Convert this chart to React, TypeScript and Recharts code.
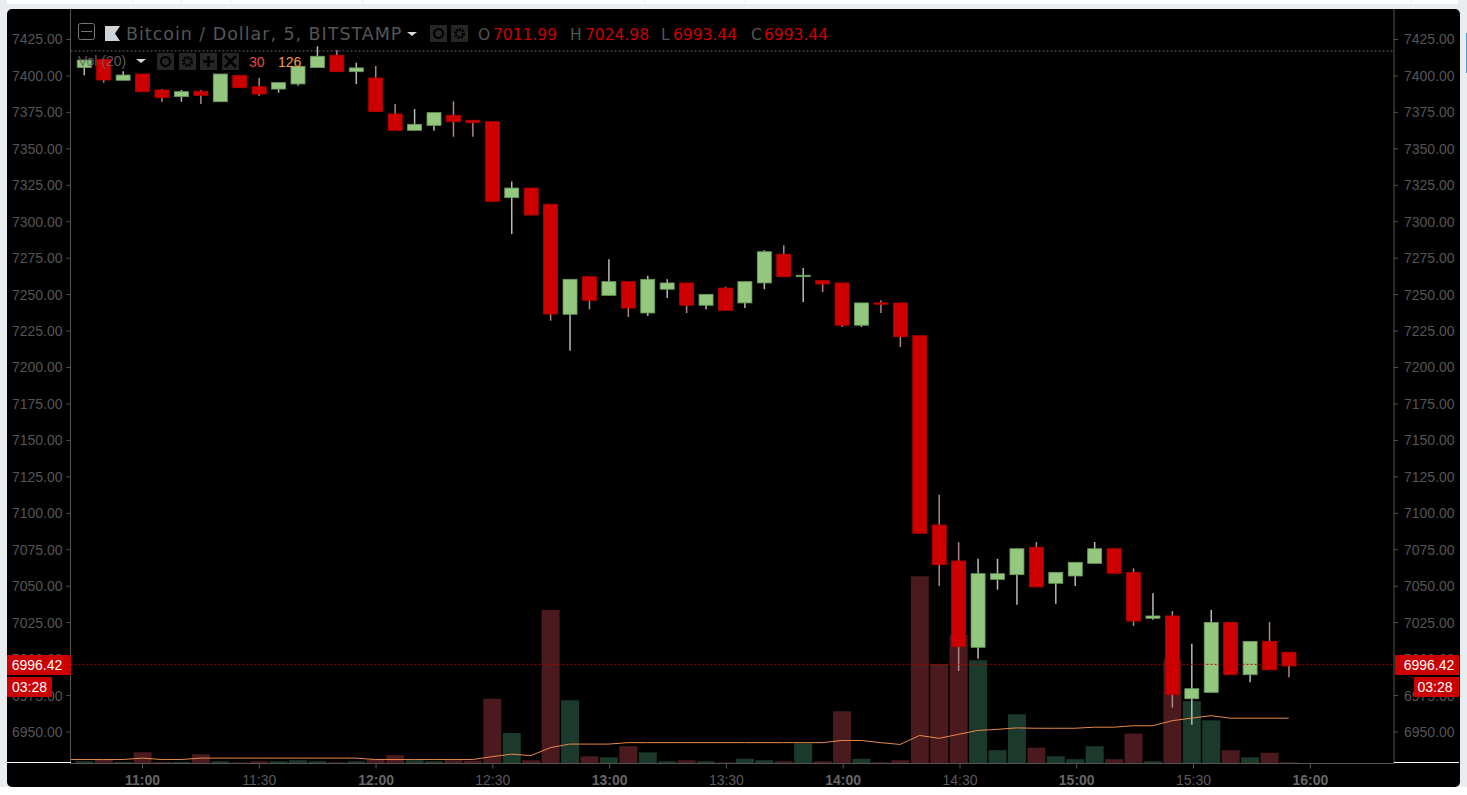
import React from "react";

import {
    ComposedChart,
    Bar,
    Cell,
    Line,
    XAxis,
    YAxis,
    ReferenceLine,
} from "recharts";

const opens = [null, 7405.7, 7411.4, 7397.0, 7401.3, 7390.4, 7385.8, 7389.5, 7382.3, 7400.4, 7392.6, 7391.0, 7394.5, 7405.7, 7414.2, 7402.9, 7398.6, 7373.9, 7362.7, 7366.1, 7373.0, 7369.6, 7368.6, 7316.5, 7323.1, 7312.0, 7236.5, 7262.3, 7249.5, 7258.9, 7237.4, 7253.7, 7258.0, 7242.7, 7254.5, 7244.3, 7258.0, 7277.7, 7262.3, 7259.6, 7258.0, 7229.0, 7244.3, 7244.3, 7221.8, 7092.0, 7067.3, 7008.1, 7054.7, 7057.9, 7076.7, 7052.0, 7057.0, 7065.7, 7075.7, 7059.5, 7028.0, 7029.6, 6972.8, 6977.2, 7025.2, 6989.3, 7012.2, 7004.7];
const highs = [null, 7410.9, 7411.6, 7403.2, 7401.3, 7391.0, 7390.4, 7390.4, 7401.3, 7400.4, 7398.8, 7395.6, 7406.6, 7420.3, 7417.8, 7409.1, 7406.8, 7380.8, 7377.3, 7374.8, 7382.6, 7369.6, 7368.6, 7327.5, 7323.1, 7312.0, 7260.5, 7262.3, 7274.2, 7258.9, 7263.0, 7260.5, 7258.0, 7250.2, 7255.4, 7258.9, 7280.4, 7283.8, 7268.3, 7259.6, 7258.0, 7244.3, 7246.1, 7244.3, 7221.8, 7112.8, 7080.1, 7068.9, 7068.9, 7075.7, 7080.3, 7059.5, 7066.4, 7080.3, 7075.7, 7062.3, 7045.1, 7033.0, 7010.6, 7033.7, 7025.2, 7012.2, 7025.4, 7004.7];
const lows = [null, 7400.4, 7395.4, 7397.0, 7389.2, 7382.3, 7382.3, 7380.8, 7382.3, 7391.9, 7386.2, 7388.5, 7393.3, 7405.7, 7402.9, 7394.5, 7375.5, 7362.7, 7362.7, 7362.4, 7358.3, 7358.3, 7314.0, 7291.6, 7304.6, 7232.1, 7211.5, 7239.9, 7249.5, 7234.7, 7235.3, 7247.7, 7237.4, 7239.9, 7239.2, 7240.8, 7253.7, 7262.3, 7245.0, 7251.8, 7227.8, 7227.8, 7237.4, 7214.1, 7086.3, 7050.1, 6991.8, 7000.3, 7047.6, 7037.3, 7049.5, 7038.0, 7050.1, 7065.7, 7058.9, 7022.7, 7027.0, 6966.7, 6955.0, 6977.2, 6989.3, 6984.1, 6992.7, 6987.5];
const closes = [null, 7410.9, 7397.2, 7400.6, 7389.2, 7385.1, 7389.2, 7386.7, 7401.3, 7391.9, 7387.6, 7395.4, 7406.6, 7413.5, 7402.9, 7405.5, 7375.5, 7362.7, 7366.8, 7374.8, 7368.6, 7367.9, 7314.0, 7323.1, 7304.6, 7236.7, 7260.5, 7246.1, 7258.9, 7240.8, 7260.5, 7258.0, 7242.7, 7250.2, 7239.2, 7258.9, 7279.4, 7262.3, 7263.3, 7257.3, 7229.0, 7244.3, 7243.4, 7221.1, 7086.3, 7064.8, 7008.5, 7058.6, 7058.6, 7075.7, 7049.5, 7059.5, 7066.4, 7075.7, 7058.9, 7026.1, 7029.6, 6975.6, 6979.7, 7025.2, 6989.3, 7012.2, 6992.7, 6995.3];
const volumes = [null, 6, 11, 4, 31, 4, 4, 26, 6, 3, 6, 6, 9, 6, 3, 6, 11, 23, 9, 6, 9, 8, 180, 85, 9, 427, 176, 20, 17, 48, 31, 6, 9, 6, 3, 13, 9, 6, 56, 6, 145, 13, 3, 9, 521, 277, 357, 287, 37, 137, 44, 20, 12, 48, 12, 83, 6, 290, 173, 120, 37, 17, 30, 3];
const volumeMa = [11, 11, 11, 11, 15, 11, 11, 15, 15, 15, 15, 15, 15, 15, 15, 15, 11, 11, 11, 11, 11, 11, 19, 26, 22, 44, 54, 54, 54, 58, 58, 58, 58, 58, 58, 58, 58, 58, 58, 58, 64, 64, 58, 53, 78, 70, 81, 92, 95, 99, 98, 98, 98, 101, 101, 105, 105, 119, 126, 133, 126, 126, 126, 126];

const priceTicks = [6950, 6975, 7000, 7025, 7050, 7075, 7100, 7125, 7150, 7175, 7200, 7225, 7250, 7275, 7300, 7325, 7350, 7375, 7400, 7425];
const timeTicks = [660, 690, 720, 750, 780, 810, 840, 870, 900, 930, 960];
const lastPrice = 6996.42;
const highMark = 7417.1;

const data = opens.map((open, i) => ({
    t: 640 + i * 5,
    open,
    high: highs[i],
    low: lows[i],
    close: closes[i],
    volume: volumes[i],
    ma: volumeMa[i],
}));

const RED = "#cc0000";
const GREEN = "#93c87e";
const GREY = "#555555";
// candles sit a little left of their time tick on the original
const barDomain = [641.53, 982.1];

const Candle = (props: any) => {
    const { x, y, width, height, payload } = props;
    if (payload.open === null) return null;
    const { open, close, high, low } = payload;
    const perDollar = height / (high - low);
    const up = close >= open;
    const bodyTop = y + (high - Math.max(open, close)) * perDollar;
    const bodyH = Math.max(Math.abs(open - close) * perDollar, 1);
    const cx = x + width / 2;
    return (
        <g>
            <line x1={cx} x2={cx} y1={y} y2={y + height} stroke={up ? "#b4bcb4" : "#b08488"} strokeWidth={1.5} />
            <rect
                x={x}
                y={bodyTop}
                width={width}
                height={bodyH}
                fill={up ? GREEN : RED}
                stroke={up ? "#6c9a60" : "#b80000"}
                strokeWidth={0.8}
            />
        </g>
    );
};

const TimeTick = (props: any) => {
    const { x, y, payload } = props;
    const h = Math.floor(payload.value / 60);
    const m = payload.value % 60;
    return (
        <text
            x={x}
            y={y + 14}
            textAnchor="middle"
            fontFamily="Liberation Sans"
            fontSize={14}
            fontWeight={m === 0 ? "bold" : "normal"}
            fill={m === 0 ? "#666666" : "#5a5a5a"}
        >
            {`${h}:${m === 0 ? "00" : m}`}
        </text>
    );
};

const Icon = ({ x, y, kind }: { x: number; y: number; kind: string }) => (
    <g transform={`translate(${x},${y})`}>
        <rect width={17} height={17} fill="#262626" />
        {kind === "eye" && <circle cx={8.5} cy={8.5} r={4.5} fill="none" stroke="#000" strokeWidth={2} />}
        {kind === "gear" && <circle cx={8.5} cy={8.5} r={4} fill="none" stroke="#000" strokeWidth={3} strokeDasharray="2 1" />}
        {kind === "plus" && <path d="M8.5 3v11M3 8.5h11" stroke="#000" strokeWidth={2.5} />}
        {kind === "close" && <path d="M3 3l11 11M14 3L3 14" stroke="#000" strokeWidth={2.5} />}
    </g>
);

const headerFont = "DejaVu Sans";

const Overlay = () => (
    <svg width={1467} height={795} style={{ position: "absolute", left: 0, top: 0, pointerEvents: "none" }}>
        {/* legend header */}
        <rect x={78.5} y={23.5} width={16} height={16} rx={2} fill="none" stroke="#777" strokeWidth={1} />
        <line x1={81} x2={92} y1={31.5} y2={31.5} stroke="#777" strokeWidth={1} />
        <path d="M105 26h15l-5 7.5 5 7.5h-15z" fill="#cfd4d8" />
        <text x={126} y={40} fontFamily={headerFont} fontSize={17.5} letterSpacing={0.97} fill={GREY}>Bitcoin / Dollar, 5, BITSTAMP</text>
        <path d="M407 32h10l-5 4z" fill="#d8d8d8" />
        <Icon x={430} y={25} kind="eye" />
        <Icon x={451} y={25} kind="gear" />
        <text x={478} y={40} fontFamily={headerFont} fontSize={15.5} fill={GREY}>O</text>
        <text x={493} y={40} fontFamily={headerFont} fontSize={15.5} fill={RED}>7011.99</text>
        <text x={570} y={40} fontFamily={headerFont} fontSize={15.5} fill={GREY}>H</text>
        <text x={585} y={40} fontFamily={headerFont} fontSize={15.5} fill={RED}>7024.98</text>
        <text x={661} y={40} fontFamily={headerFont} fontSize={15.5} fill={GREY}>L</text>
        <text x={673} y={40} fontFamily={headerFont} fontSize={15.5} fill={RED}>6993.44</text>
        <text x={751} y={40} fontFamily={headerFont} fontSize={15.5} fill={GREY}>C</text>
        <text x={764} y={40} fontFamily={headerFont} fontSize={15.5} fill={RED}>6993.44</text>

        <text x={78} y={66} fontFamily="Liberation Sans" fontSize={14} fill="#666" fillOpacity={0.9}>Vol (20)</text>
        <path d="M136 59h10l-5 4z" fill="#d8d8d8" />
        <Icon x={157} y={53} kind="eye" />
        <Icon x={179} y={53} kind="gear" />
        <Icon x={200} y={53} kind="plus" />
        <Icon x={222} y={53} kind="close" />
        <text x={249} y={67} fontFamily="Liberation Sans" fontSize={14} fill="#e0464e">30</text>
        <text x={278} y={67} fontFamily="Liberation Sans" fontSize={14} fill="#f5994e">126</text>

        {/* last price and countdown tags */}
        <rect x={7} y={655} width={64} height={20} fill={RED} />
        <text x={37} y={670} textAnchor="middle" fontFamily="Liberation Sans" fontSize={14} fill="#fff">6996.42</text>
        <rect x={7} y={677} width={45} height={20} fill={RED} />
        <text x={29.5} y={692} textAnchor="middle" fontFamily="Liberation Sans" fontSize={14} fill="#fff">03:28</text>
        <rect x={1395} y={655} width={64} height={20} fill={RED} />
        <text x={1429} y={670} textAnchor="middle" fontFamily="Liberation Sans" fontSize={14} fill="#fff">6996.42</text>
        <rect x={1414} y={677} width={45} height={20} fill={RED} />
        <text x={1435} y={692} textAnchor="middle" fontFamily="Liberation Sans" fontSize={14} fill="#fff">03:28</text>

        <line x1={7} x2={71} y1={762.5} y2={762.5} stroke="#fff" strokeWidth={1} />
        <line x1={1394} x2={1459} y1={762.5} y2={762.5} stroke="#fff" strokeWidth={1} />
    </svg>
);

const tabGaps = [[7, 132], [133, 181], [182, 230], [231, 362], [363, 644], [645, 745], [746, 1411], [1412, 1458]];

const App: React.FC = () => {
    return (
        <div style={{ position: "absolute", left: 0, top: 0, width: 1467, height: 795, background: "#e9edf0", overflow: "hidden" }}>
            {tabGaps.map(([a, b]) => (
                <div key={a} style={{ position: "absolute", left: a, top: 0, width: b - a, height: 4, background: "#fff" }} />
            ))}
            <div style={{ position: "absolute", left: 7, top: 9, width: 1453, height: 778, background: "#000", borderRadius: 5 }} />
            <div style={{ position: "absolute", left: 0, top: 787, width: 1467, height: 8, background: "#fff" }} />
            <div style={{ position: "absolute", left: 1466, top: 33, width: 1, height: 40, background: "#4a9fd8" }} />
            <div style={{ position: "absolute", left: 0, top: 0 }}>
                <ComposedChart width={1467} height={795} data={data} margin={{ top: 9, right: 0, bottom: 0, left: 0 }}>
                    <XAxis
                        xAxisId="time"
                        dataKey="t"
                        type="number"
                        domain={[641.5, 981.5]}
                        allowDataOverflow
                        ticks={timeTicks}
                        interval={0}
                        height={31.5}
                        tick={TimeTick}
                        tickSize={5}
                        stroke="#555"
                    />
                    <XAxis xAxisId="vol" dataKey="t" type="number" domain={barDomain} allowDataOverflow hide height={0} />
                    <XAxis xAxisId="price" dataKey="t" type="number" domain={barDomain} allowDataOverflow hide height={0} />
                    <YAxis
                        yAxisId="price"
                        orientation="left"
                        width={70.5}
                        domain={[6928.4, 7445.9]}
                        allowDataOverflow
                        ticks={priceTicks}
                        interval={0}
                        tickFormatter={(v: number) => v.toFixed(2)}
                        tick={{ fontFamily: "Liberation Sans", fontSize: 14, fill: GREY }}
                        tickSize={4}
                        tickMargin={4}
                        stroke="#555"
                    />
                    <YAxis
                        yAxisId="right"
                        orientation="right"
                        width={73}
                        domain={[6928.4, 7445.9]}
                        allowDataOverflow
                        ticks={priceTicks}
                        interval={0}
                        tickFormatter={(v: number) => v.toFixed(2)}
                        tick={{ fontFamily: "Liberation Sans", fontSize: 14, fill: GREY }}
                        tickSize={4}
                        tickMargin={6}
                        stroke="#555"
                    />
                    <YAxis yAxisId="vol" hide domain={[0, 2098]} />
                    <Bar xAxisId="vol" yAxisId="vol" dataKey="volume" barSize={18} isAnimationActive={false}>
                        {data.map((d) => (
                            <Cell
                                key={d.t}
                                fill={d.close !== null && d.open !== null && d.close >= d.open ? "#1c3a2c" : "#4a1a1e"}
                            />
                        ))}
                    </Bar>
                    <Line
                        xAxisId="vol"
                        yAxisId="vol"
                        dataKey="ma"
                        stroke="#e8894a"
                        strokeWidth={1}
                        dot={false}
                        isAnimationActive={false}
                    />
                    <ReferenceLine xAxisId="price" yAxisId="price" y={lastPrice} stroke="#b00000" strokeDasharray="2 2" />
                    <ReferenceLine xAxisId="price" yAxisId="price" y={highMark} stroke="#666" strokeDasharray="2 2" />
                    <Bar
                        xAxisId="price"
                        yAxisId="price"
                        dataKey={(d: any) => (d.open === null ? null : [d.low, d.high])}
                        barSize={14}
                        shape={Candle}
                        isAnimationActive={false}
                    />
                </ComposedChart>
            </div>
            <Overlay />
        </div>
    );
};

export default App;
